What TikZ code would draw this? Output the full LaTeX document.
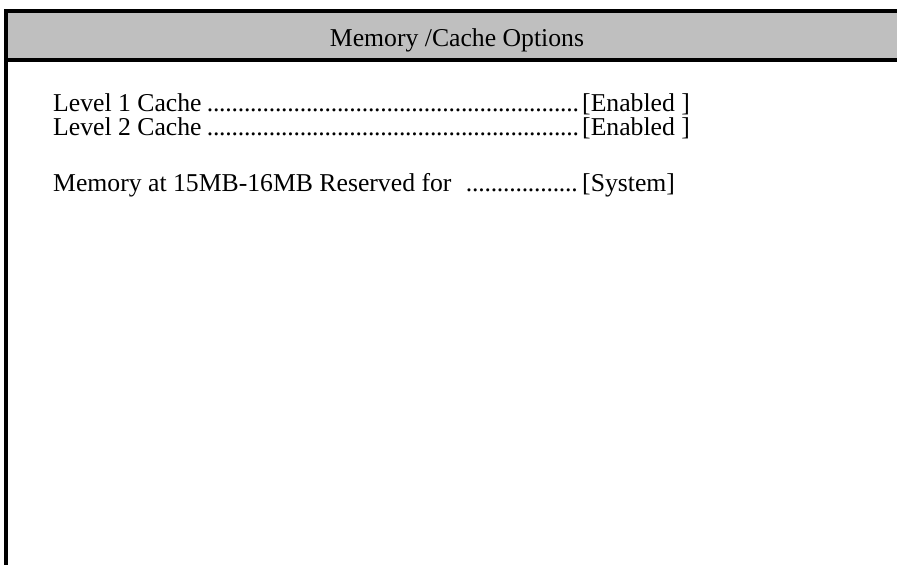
\documentclass[tikz,border=0pt]{standalone}
\usepackage{fontspec}
\setmainfont{Liberation Serif}
\newcommand{\leaderdots}{\hspace{4pt}\cleaders\hbox to 6.2pt{\hss.\hss}\hfill\hspace{2pt}}
\newcommand{\setting}[2]{\makebox[529pt][l]{#1\leaderdots}#2}
\begin{document}
\begin{tikzpicture}[x=1pt,y=-1pt]
    \tikzstyle{every node}+=[inner sep=0pt, font=\fontsize{25.7}{28}\selectfont]
    \useasboundingbox (0,0) rectangle (897,565);
    \fill [black!25] (6,11) rectangle (897,60);
    \draw [black, line width=4pt] (897,11) -- (6,11) -- (6,565);
    \draw [black, line width=4pt] (6,60) -- (897,60);
    \node [anchor=base] (title) at (457,46) {Memory /Cache Options};
    \node [anchor=base west] (lone) at (53,111) {\setting{Level 1 Cache}{[Enabled ]}};
    \node [anchor=base west] (ltwo) at (53,135) {\setting{Level 2 Cache}{[Enabled ]}};
    \node [anchor=base west] (mem) at (53,191) {\setting{Memory at 15MB-16MB Reserved for\hspace{8pt}}{[System]}};
\end{tikzpicture}
\end{document}
